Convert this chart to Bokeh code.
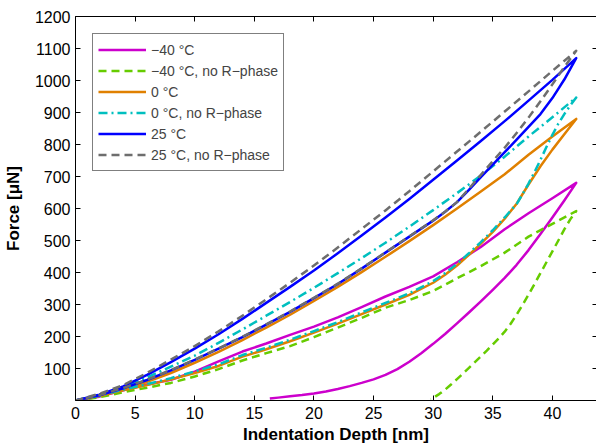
from bokeh.plotting import figure
from bokeh.models import LinearAxis, FixedTicker, Range1d, CustomJSTickFormatter
from bokeh.embed import file_html
from bokeh.resources import INLINE

# ---------------- data ----------------
load_depth = [0, 2, 4, 6, 8, 10, 12, 14, 16, 18, 20, 22, 24, 26, 28, 30, 32, 34, 36, 38, 40, 42]

# -40 °C
m40_load = [0, 12, 32, 50, 65, 90, 122, 153, 178, 205, 231, 260, 292, 325, 355, 388, 432, 480, 535, 585, 632, 680]
m40_unload_depth = [41, 40, 39, 38, 37, 36, 35, 34, 33, 32, 31, 30, 29, 28, 27, 26, 25, 24, 23, 22, 21, 20, 19, 18, 17, 16.3]
m40_unload = [625, 572, 520, 470, 424, 383, 346, 310, 275, 241, 208, 177, 148, 121, 98, 80, 66, 55, 45, 36, 28, 22, 17, 13, 9, 6]

# -40 °C, no R-phase
m40n_load = [0, 10, 26, 40, 55, 75, 98, 125, 148, 170, 198, 228, 258, 290, 314, 342, 382, 420, 462, 512, 552, 592]
m40n_unload_depth = [41.5, 41, 40.5, 40, 39.5, 39, 38.5, 38, 37.5, 37, 36.5, 36, 35.5, 35, 34.5, 34, 33.5, 33, 32.5, 32, 31.5, 31, 30.5, 30, 29.8]
m40n_unload = [566, 535, 500, 466, 432, 398, 364, 331, 299, 268, 240, 215, 194, 175, 156, 138, 120, 102, 84, 67, 50, 34, 20, 8, 3]

# 0 °C
c0_load = [0, 14, 36, 58, 86, 118, 152, 189, 228, 268, 311, 355, 401, 449, 498, 548, 600, 653, 707, 768, 825, 880]
c0_unload_depth = [41, 40, 39, 38, 37, 36, 35, 34, 33, 32, 31, 30, 28, 26, 24, 22, 20, 18, 16, 14, 12, 10, 8, 6, 4, 2, 0]
c0_unload = [832, 784, 732, 675, 615, 568, 527, 490, 455, 422, 393, 368, 330, 300, 270, 240, 212, 185, 160, 137, 108, 86, 66, 48, 32, 14, 0]

# 0 °C, no R-phase
c0n_load = [0, 17, 42, 72, 106, 140, 180, 222, 265, 308, 352, 398, 445, 493, 543, 595, 648, 703, 762, 825, 885, 947]
c0n_unload_depth = [41.5, 41, 40.5, 40, 39.5, 39, 38.5, 38, 37.5, 37, 36, 35, 34, 33, 32, 31, 30, 28, 26, 24, 22, 20, 18, 16, 14, 12, 10, 8, 6, 4, 2, 0]
c0n_unload = [922, 895, 865, 830, 792, 752, 714, 678, 645, 614, 572, 532, 495, 460, 427, 398, 373, 335, 305, 275, 245, 217, 190, 165, 142, 113, 91, 70, 51, 34, 15, 0]

# 25 °C
c25_load = [0, 18, 44, 80, 120, 162, 207, 255, 305, 355, 406, 460, 516, 572, 630, 690, 750, 811, 873, 937, 1002, 1070]
c25_unload_depth = [41, 40, 39, 38, 37, 36, 35, 34, 33, 32, 31, 30, 28, 26, 24, 22, 20, 18, 16, 14, 12, 10, 8, 6, 4, 2, 0]
c25_unload = [1003, 945, 895, 855, 815, 776, 737, 698, 658, 620, 590, 562, 512, 462, 412, 364, 320, 277, 237, 198, 162, 127, 94, 64, 38, 16, 0]

# 25 °C, no R-phase
c25n_load = [0, 21, 48, 86, 128, 170, 216, 265, 316, 368, 422, 478, 536, 594, 654, 716, 778, 840, 903, 966, 1030, 1093]
c25n_unload_depth = [41, 40, 39, 38, 37, 36, 35, 34, 33, 32, 31, 30, 28, 26, 24, 22, 20, 18, 16, 14, 12, 10, 8, 6, 4, 2, 0]
c25n_unload = [1042, 988, 935, 884, 836, 790, 748, 705, 662, 620, 590, 563, 513, 463, 413, 365, 321, 278, 238, 199, 163, 128, 95, 65, 39, 17, 0]

labels = ["\u221240 \u00b0C", "\u221240 \u00b0C, no R\u2212phase", "0 \u00b0C",
          "0 \u00b0C, no R\u2212phase", "25 \u00b0C", "25 \u00b0C, no R\u2212phase"]
x_ticks = [0, 5, 10, 15, 20, 25, 30, 35, 40, 45]
y_ticks = [100, 200, 300, 400, 500, 600, 700, 800, 900, 1000, 1100, 1200]

series = [
    (m40_load, m40_unload_depth, m40_unload),
    (m40n_load, m40n_unload_depth, m40n_unload),
    (c0_load, c0_unload_depth, c0_unload),
    (c0n_load, c0n_unload_depth, c0n_unload),
    (c25_load, c25_unload_depth, c25_unload),
    (c25n_load, c25n_unload_depth, c25n_unload),
]
styles = [
    dict(color="#CC00CC", dash="solid"),
    dict(color="#66CC00", dash="8 5"),
    dict(color="#E08000", dash="solid"),
    dict(color="#00BFBF", dash="9 4 2 4"),
    dict(color="#0000FF", dash="solid"),
    dict(color="#6E6E6E", dash="8 5"),
]

FONT = "Liberation Sans"

p = figure(width=596, height=446, x_range=Range1d(0, 43.7), y_range=Range1d(0, 1200),
           output_backend="svg", toolbar_location=None,
           min_border_left=75, min_border_right=0, min_border_top=16, min_border_bottom=46)
p.outline_line_color = None
p.xgrid.visible = False
p.ygrid.visible = False
p.background_fill_color = "white"
p.border_fill_color = "white"

for (ld, ud, uf), st, lab in zip(series, styles, labels):
    xs = list(load_depth) + list(ud)
    ys = list(ld) + list(uf)
    p.line(xs, ys, line_color=st["color"], line_width=2.5, line_dash=st["dash"],
           legend_label=lab, line_join="round")

def style_axis(ax, ticks, show_labels=True):
    ax.ticker = FixedTicker(ticks=ticks)
    ax.major_tick_in = 5
    ax.major_tick_out = 0
    ax.minor_tick_line_color = None
    ax.axis_line_color = "black"
    ax.axis_line_width = 1
    ax.major_tick_line_color = "black"
    ax.major_label_text_font = FONT
    ax.major_label_text_color = "black"
    ax.major_label_text_font_size = "16px"
    if show_labels:
        ax.major_label_standoff = 6
    else:
        ax.formatter = CustomJSTickFormatter(code="return ''")
        ax.major_label_standoff = 0

xa = p.xaxis[0]
style_axis(xa, x_ticks)
xa.axis_label = "Indentation Depth [nm]"
xa.axis_label_text_font = FONT
xa.axis_label_text_font_style = "bold"
xa.axis_label_text_font_size = "17px"
xa.axis_label_text_color = "black"
xa.axis_label_standoff = 3

ya = p.yaxis[0]
style_axis(ya, y_ticks)
ya.major_label_standoff = 5
ya.axis_label = "Force [\u03bcN]"
ya.axis_label_text_font = FONT
ya.axis_label_text_font_style = "bold"
ya.axis_label_text_font_size = "17px"
ya.axis_label_text_color = "black"
ya.axis_label_standoff = 9

top = LinearAxis()
style_axis(top, x_ticks, show_labels=False)
p.add_layout(top, "above")

right = LinearAxis()
style_axis(right, y_ticks, show_labels=False)
right.axis_line_color = None
right.major_tick_in = 4
p.add_layout(right, "right")

lg = p.legend[0]
lg.location = "top_left"
lg.margin = 17
lg.padding = 5
lg.spacing = 0
lg.glyph_width = 48
lg.glyph_height = 21
lg.label_height = 21
lg.label_standoff = 5
lg.label_text_font = FONT
lg.label_text_font_size = "14px"
lg.border_line_color = "black"
lg.border_line_width = 1
lg.background_fill_color = "white"
lg.background_fill_alpha = 1.0

open("out.html", "w").write(file_html(p, INLINE))
